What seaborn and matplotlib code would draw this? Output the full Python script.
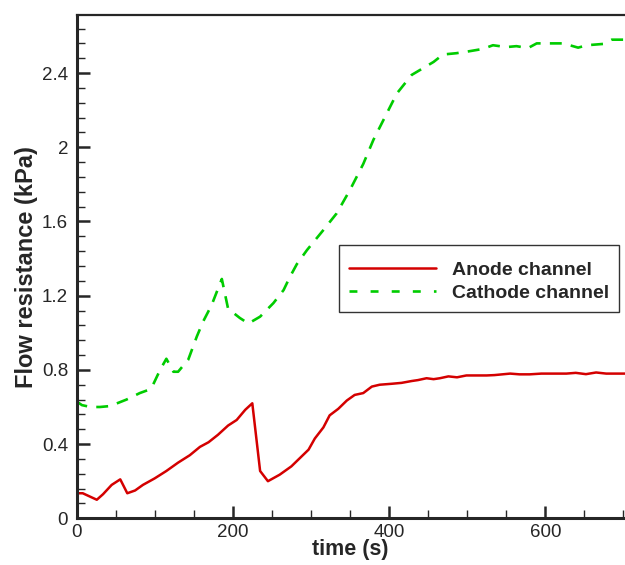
import numpy as np
import pandas as pd
import matplotlib
matplotlib.use("Agg")
import matplotlib.pyplot as plt
from matplotlib.ticker import MultipleLocator
import seaborn as sns

sns.set_style("ticks")
plt.rcParams["font.family"] = ["Liberation Sans", "DejaVu Sans"]

# anode channel (red solid)
anode_t = [0, 8, 26, 34, 45, 56, 65, 75, 85, 100, 115, 130, 145, 158, 169, 181, 194, 205,
           216, 225, 235, 245, 260, 275, 286, 297, 305, 316, 324, 335, 346, 356, 367, 378,
           388, 403, 416, 429, 437, 448, 457, 465, 476, 487, 499, 512, 525, 535, 555, 567,
           580, 595, 610, 627, 639, 652, 665, 678, 702]
anode_p = [0.135, 0.135, 0.10, 0.13, 0.18, 0.21, 0.135, 0.15, 0.18, 0.215, 0.255, 0.30, 0.34,
           0.385, 0.41, 0.45, 0.50, 0.53, 0.585, 0.62, 0.255, 0.20, 0.235, 0.28, 0.325, 0.37,
           0.43, 0.49, 0.555, 0.59, 0.635, 0.665, 0.675, 0.71, 0.72, 0.725, 0.73, 0.74, 0.745,
           0.755, 0.75, 0.755, 0.765, 0.76, 0.77, 0.77, 0.77, 0.772, 0.78, 0.776, 0.776, 0.78,
           0.78, 0.78, 0.784, 0.777, 0.786, 0.78, 0.78]

# cathode channel (green dashed)
cathode_t = [0, 7, 18, 30, 43, 64, 81, 94, 98, 107, 115, 124, 130, 143, 154, 162, 173, 186,
             190, 194, 209, 220, 235, 252, 265, 273, 282, 295, 316, 333, 350, 367, 380, 395,
             410, 429, 457, 469, 486, 499, 520, 533, 550, 563, 578, 589, 610, 623, 642, 653,
             674, 685, 702]
cathode_p = [0.63, 0.61, 0.60, 0.60, 0.605, 0.64, 0.675, 0.695, 0.72, 0.80, 0.86, 0.79, 0.79,
             0.855, 0.98, 1.06, 1.15, 1.29, 1.21, 1.13, 1.08, 1.05, 1.087, 1.16, 1.23, 1.30,
             1.37, 1.446, 1.554, 1.644, 1.77, 1.91, 2.04, 2.165, 2.29, 2.39, 2.46, 2.50, 2.507,
             2.515, 2.53, 2.55, 2.54, 2.545, 2.535, 2.56, 2.56, 2.56, 2.537, 2.55, 2.557, 2.58,
             2.58]

anode = pd.DataFrame({"t": anode_t, "p": anode_p})
cathode = pd.DataFrame({"t": cathode_t, "p": cathode_p})

fig = plt.figure(figsize=(6.25, 5.65), dpi=100)
ax = fig.add_axes([76.5 / 625, 1 - 518.3 / 565, 1 - 76.5 / 625, (518.3 - 15) / 565])

sns.lineplot(data=anode, x="t", y="p", ax=ax, color="#d40000", lw=1.8,
             label="Anode channel", sort=False, estimator=None)
sns.lineplot(data=cathode, x="t", y="p", ax=ax, color="#00cc00", lw=1.9,
             label="Cathode channel", sort=False, estimator=None)
ax.lines[1].set_dashes([4.5, 3.5])

ax.set_xlim(0, 702)
ax.set_ylim(0, 2.713)
ax.xaxis.set_major_locator(MultipleLocator(200))
ax.xaxis.set_minor_locator(MultipleLocator(50))
ax.yaxis.set_minor_locator(MultipleLocator(0.08))
ax.set_yticks([0, 0.4, 0.8, 1.2, 1.6, 2.0, 2.4])
ax.set_yticklabels(["0", "0.4", "0.8", "1.2", "1.6", "2", "2.4"])

ax.tick_params(which="major", direction="in", length=9, width=1.8, labelsize=13.5, pad=4)
ax.tick_params(which="minor", direction="in", length=6, width=1)
ax.tick_params(axis="y", pad=6)

ax.spines["left"].set_linewidth(2.2)
ax.spines["bottom"].set_linewidth(2.2)
ax.spines["top"].set_linewidth(1.6)
ax.spines["right"].set_visible(False)

ax.set_xlabel("time (s)", fontsize=15.5, fontweight="bold", labelpad=-1)
ax.set_ylabel("Flow resistance (kPa)", fontsize=17, fontweight="bold", labelpad=3)

# blank tiny title gives the extra room above the entries
leg = ax.legend(loc="upper left", bbox_to_anchor=(0.479, 0.544), borderaxespad=0,
                fancybox=False, frameon=True, handlelength=4.5, handletextpad=0.8,
                prop={"weight": "bold", "size": 14}, borderpad=0.5, labelspacing=0.3,
                title=" ", title_fontsize=1)
leg.get_frame().set_edgecolor("black")
leg.get_frame().set_linewidth(1.0)
for h in leg.get_lines()[1:]:
    h.set_dashes([3, 5])

fig.savefig("out.png", dpi=100)
